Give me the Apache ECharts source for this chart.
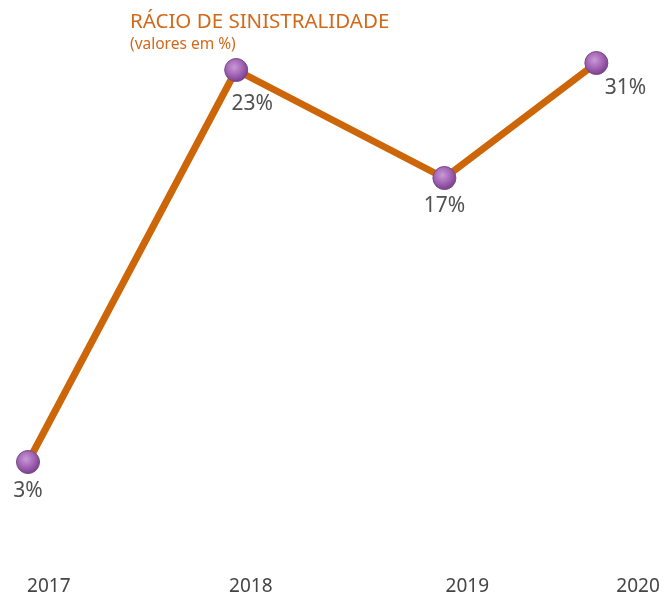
<!DOCTYPE html>
<html>
<head>
<meta charset="utf-8">
<script src="https://cdn.jsdelivr.net/npm/echarts@6/dist/echarts.min.js"></script>
<style>
  html, body { margin: 0; padding: 0; background: #fff; }
  #chart { width: 667px; height: 599px; }
</style>
</head>
<body>
<div id="chart"></div>
<script>
// anos e valores do gráfico
const years = ['2017', '2018', '2019', '2020'];
const valueLabels = ['3%', '23%', '17%', '31%'];
// posição horizontal de cada ponto (em anos)
const xPositions = [2017, 2018, 2019, 2019.73];
// altura de cada ponto (escala 0-100)
const levels = [11.6, 90, 68.4, 91.4];
// posição das etiquetas dos anos no eixo
const yearTickPositions = [2017.1, 2018.07, 2019.11, 2019.93];

const labelOffsets = [[0, 29], [16, 34], [0, 28], [29, 25]];

const chart = echarts.init(document.getElementById('chart'));

const option = {
    backgroundColor: '#ffffff',
    animation: false,
    title: {
        text: 'RÁCIO DE SINISTRALIDADE',
        subtext: '(valores em %)',
        left: 125,
        top: 7,
        itemGap: 4,
        textStyle: {
            color: '#d2691a',
            fontFamily: 'Noto Sans',
            fontWeight: 'normal',
            fontSize: 20.5
        },
        subtextStyle: {
            color: '#d2691a',
            fontFamily: 'Noto Sans',
            fontSize: 15.5
        }
    },
    grid: {
        left: 28,
        right: 4,
        top: 20,
        bottom: 79
    },
    xAxis: {
        type: 'value',
        min: 2017,
        max: 2020.05,
        axisLine: { show: false },
        axisTick: { show: false },
        splitLine: { show: false },
        axisLabel: {
            customValues: yearTickPositions,
            margin: 57,
            color: '#444',
            fontFamily: 'Noto Sans',
            fontSize: 19,
            formatter: function (v) {
                const i = yearTickPositions.findIndex(p => Math.abs(p - v) < 1e-6);
                return i >= 0 ? years[i] : '';
            }
        }
    },
    yAxis: {
        type: 'value',
        min: 0,
        max: 100,
        show: false
    },
    series: [{
        type: 'line',
        data: xPositions.map((x, i) => [x, levels[i]]),
        lineStyle: {
            color: '#cc6608',
            width: 7
        },
        symbol: 'circle',
        symbolSize: 23,
        itemStyle: {
            color: new echarts.graphic.RadialGradient(0.42, 0.38, 0.65, [
                { offset: 0, color: '#c99ad6' },
                { offset: 0.55, color: '#a062b2' },
                { offset: 1, color: '#743a86' }
            ]),
            borderColor: '#7a4a88',
            borderWidth: 1
        },
        label: {
            show: true,
            position: 'inside',
            color: '#505050',
            fontFamily: 'Noto Sans',
            fontSize: 21,
            formatter: function (p) {
                return valueLabels[p.dataIndex];
            }
        },
        labelLayout: function (params) {
            const off = labelOffsets[params.dataIndex];
            return {
                x: params.rect.x + params.rect.width / 2 + off[0],
                y: params.rect.y + params.rect.height / 2 + off[1],
                align: 'center',
                verticalAlign: 'middle'
            };
        }
    }]
};

chart.setOption(option);
</script>
</body>
</html>
